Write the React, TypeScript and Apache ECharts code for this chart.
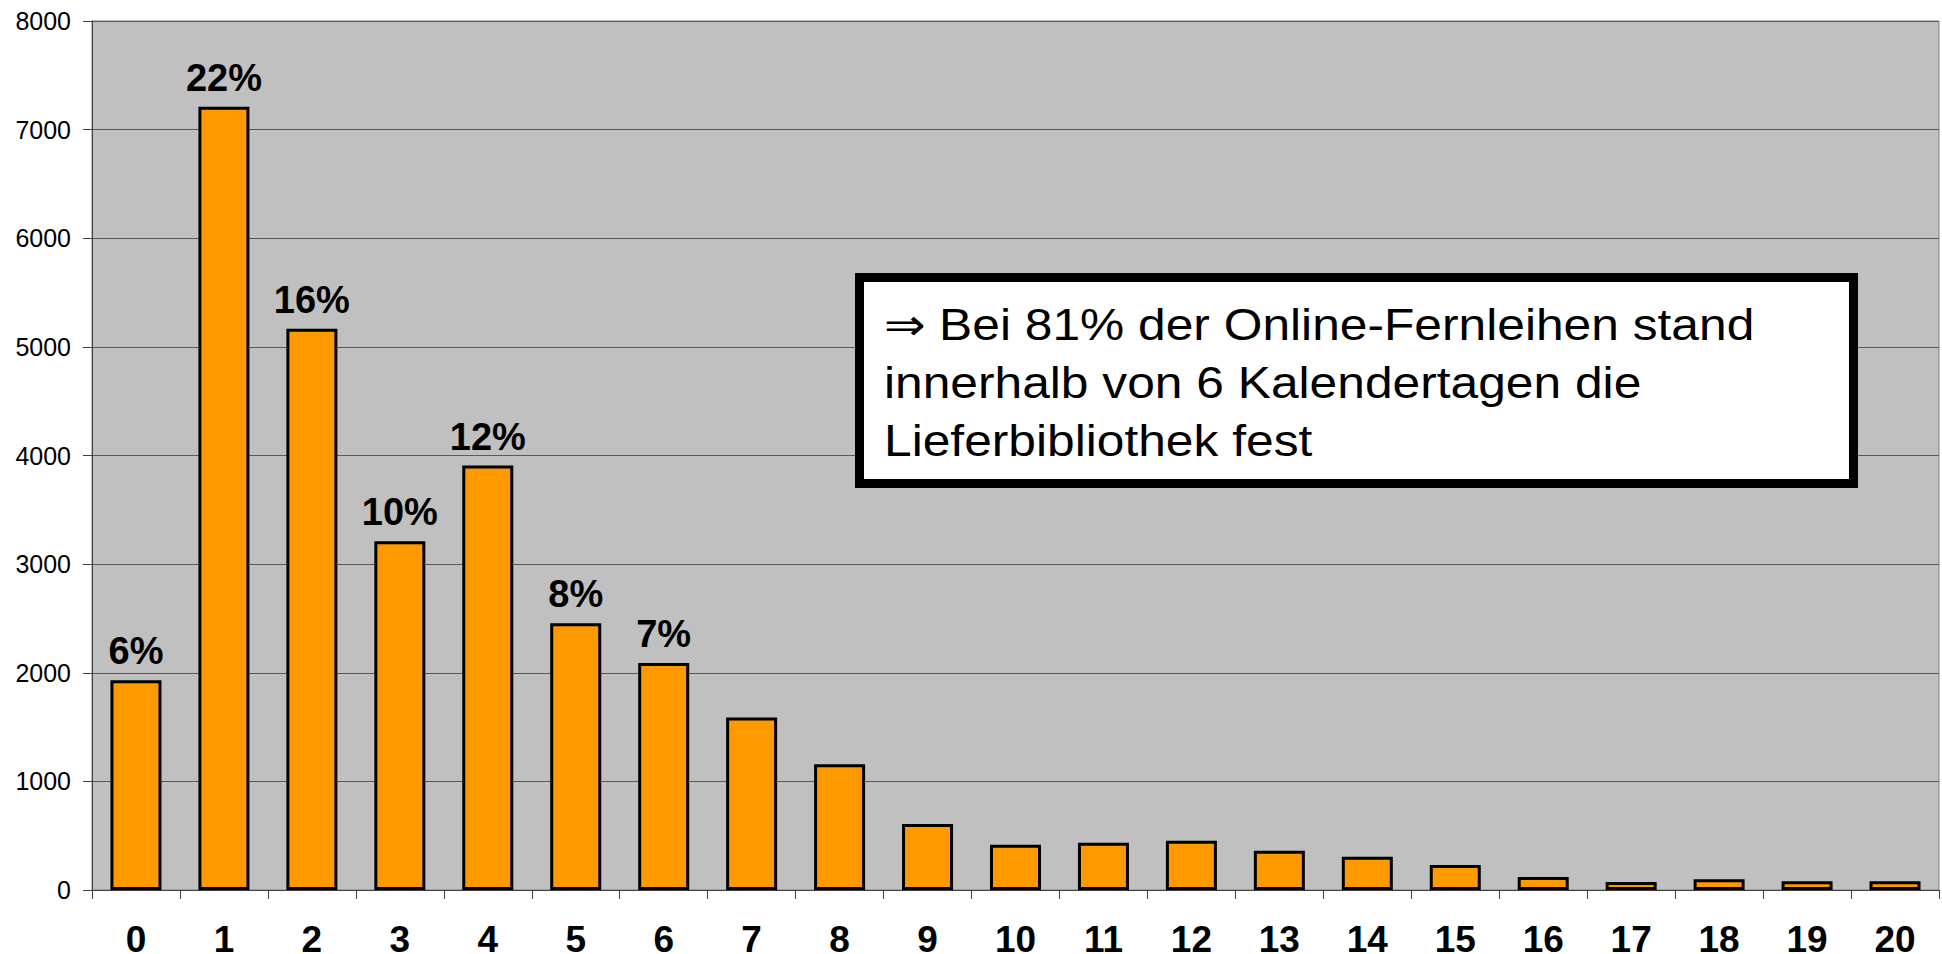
import React, { useEffect, useRef } from "react";
import * as echarts from "echarts";

const categories: string[] = ["0", "1", "2", "3", "4", "5", "6", "7", "8", "9", "10", "11", "12", "13", "14", "15", "16", "17", "18", "19", "20"];
const counts: number[] = [1930, 7210, 5166, 3210, 3907, 2455, 2090, 1587, 1157, 608, 417, 436, 454, 362, 307, 230, 120, 74, 98, 80, 80];
const percentLabels: string[] = ["6%", "22%", "16%", "10%", "12%", "8%", "7%", "", "", "", "", "", "", "", "", "", "", "", "", "", ""];
const yTicks: number[] = [0, 1000, 2000, 3000, 4000, 5000, 6000, 7000, 8000];
const noteLines: string[] = [
  "\u21D2 Bei 81% der Online-Fernleihen stand",
  "innerhalb von 6 Kalendertagen die",
  "Lieferbibliothek fest",
];

const FONT = '"Liberation Sans", Arial, sans-serif';

export default function App() {
  const ref = useRef<HTMLDivElement | null>(null);

  useEffect(() => {
    if (!ref.current) return;
    const chart = echarts.init(ref.current, null, { renderer: "svg" });
    const option: any = {
      animation: false,
      backgroundColor: "#ffffff",
      grid: {
        left: 92,
        top: 21,
        width: 1847,
        height: 869,
        show: true,
        backgroundColor: "#C0C0C0",
        borderColor: "#808080",
        borderWidth: 1,
        containLabel: false,
        outerBoundsMode: "none",
      },
      xAxis: {
        type: "category",
        data: categories,
        boundaryGap: true,
        axisLine: { show: true, lineStyle: { color: "#404040", width: 1 } },
        axisTick: { show: true, alignWithLabel: false, length: 9, lineStyle: { color: "#404040" } },
        axisLabel: {
          color: "#000",
          fontFamily: FONT,
          fontWeight: "bold",
          fontSize: 37,
          lineHeight: 30,
          margin: 34,
          interval: 0,
        },
        splitLine: { show: false },
      },
      yAxis: {
        type: "value",
        min: yTicks[0],
        max: yTicks[yTicks.length - 1],
        interval: 1000,
        axisLine: { show: true, lineStyle: { color: "#404040", width: 1 } },
        axisTick: { show: true, length: 9, lineStyle: { color: "#404040" } },
        axisLabel: {
          color: "#000",
          fontFamily: FONT,
          fontSize: 25,
          margin: 21,
          formatter: (v: number) => String(v),
        },
        splitLine: { show: true, lineStyle: { color: "#5a5a5a", width: 1 } },
      },
      series: [
        {
          type: "bar",
          data: counts,
          barWidth: 51,
          itemStyle: { color: "#FF9900", borderColor: "#000000", borderWidth: 3 },
          label: {
            show: true,
            position: "top",
            distance: 10,
            color: "#000",
            fontFamily: FONT,
            fontWeight: "bold",
            fontSize: 38,
            formatter: (p: any) => percentLabels[p.dataIndex] || "",
          },
        },
      ],
      graphic: [
        {
          type: "rect",
          shape: { x: 859.5, y: 277.5, width: 994, height: 206 },
          style: { fill: "#ffffff", stroke: "#000000", lineWidth: 9 },
          z: 100,
        },
        {
          type: "text",
          x: 884,
          y: 383,
          scaleX: 1.13,
          z: 101,
          style: {
            text: noteLines.join("\n"),
            fill: "#000",
            font: `44px ${FONT}`,
            lineHeight: 58,
            align: "left",
            verticalAlign: "middle",
          },
        },
      ],
    };
    chart.setOption(option);
    return () => {
      chart.dispose();
    };
  }, []);

  return (
    <div
      ref={ref}
      style={{ position: "fixed", left: 0, top: 0, width: 1942, height: 954 }}
    />
  );
}
